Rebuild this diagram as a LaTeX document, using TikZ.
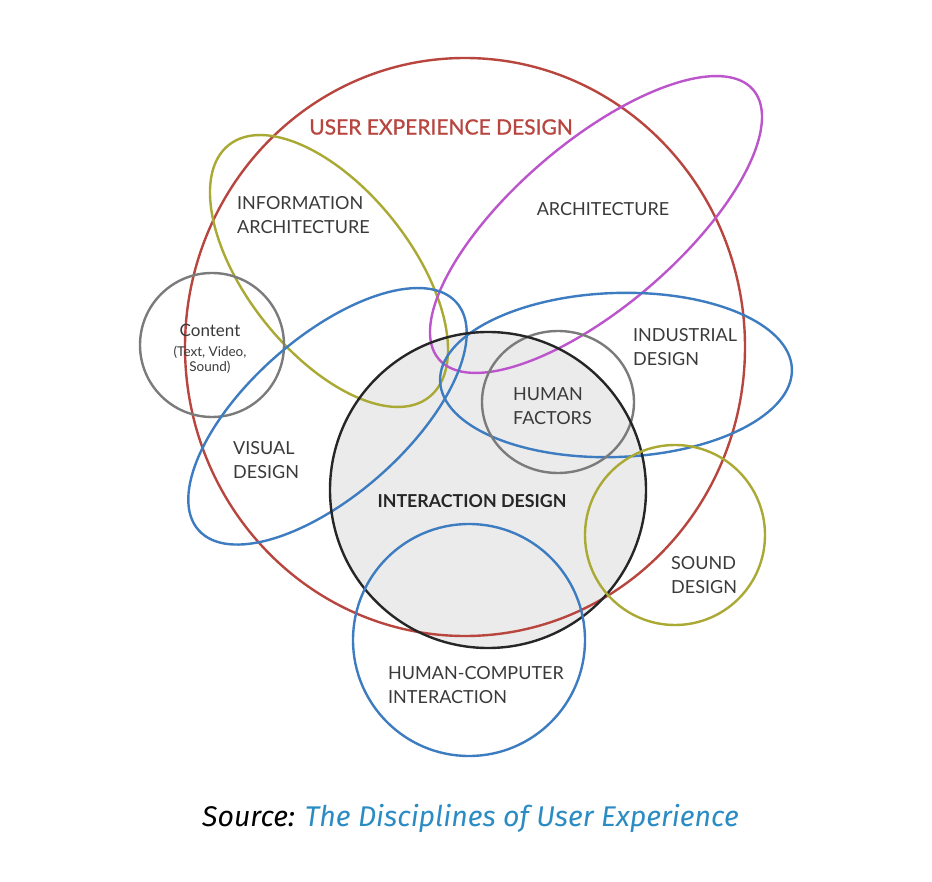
\documentclass[tikz,border=0pt]{standalone}
\usepackage{fontspec}
\setmainfont{Lato}
\newfontfamily\uxheavy[FakeBold=1]{Lato}
\newfontfamily\capfont{Fira Sans}
\usetikzlibrary{positioning}
\definecolor{uxred}{HTML}{B8463F}
\definecolor{uxolive}{HTML}{A9A934}
\definecolor{uxmagenta}{HTML}{BC55CC}
\definecolor{uxblue}{HTML}{3D7CC0}
\definecolor{uxgray}{HTML}{7B7B7B}
\definecolor{uxfill}{HTML}{EBEBEB}
\definecolor{uxtext}{HTML}{3A3A3A}
\definecolor{uxlink}{HTML}{2B8CC4}
\tikzset{
  uxring/.style={line width=2.4pt},
  uxlabel/.style={text=uxtext, align=left, inner sep=0pt, font=\fontsize{18}{23.5}\selectfont},
  uxsmall/.style={text=uxtext, align=center, inner sep=0pt, font=\fontsize{13.5}{15}\selectfont},
  uxtitle/.style={text=uxred, inner sep=0pt, font=\uxheavy\fontsize{21}{25}\selectfont},
  uxbold/.style={text=black!85, inner sep=0pt, font=\fontsize{17.8}{20}\selectfont\bfseries}
}

\begin{document}
\begin{tikzpicture}[x=1pt, y=-1pt]
  \useasboundingbox[fill=white] (0,0) rectangle (932,882);

  % interaction design disc below every ring
  \fill[uxfill] (488,490) circle [radius=158];

  \draw[uxring, uxred] (465,347) circle [x radius=280, y radius=289];
  \draw[uxring, uxolive] (329,271) circle [x radius=161, y radius=82, rotate=-51.5];
  \draw[uxring, uxmagenta] (596,224.5) circle [x radius=207, y radius=82, rotate=40.6];
  \draw[uxring, uxgray] (212,345) circle [radius=72];
  \draw[uxring, uxblue] (327.5,416.3) circle [x radius=172, y radius=79, rotate=41.4];
  \draw[uxring, uxblue] (616,375) circle [x radius=176, y radius=82, rotate=2];
  \draw[uxring, uxgray] (558,402) circle [x radius=76, y radius=71];
  \draw[uxring, black!85] (488,490) circle [radius=158];
  \draw[uxring, uxblue] (469,640) circle [radius=116];
  \draw[uxring, uxolive] (675,535) circle [radius=90];

  \node[uxtitle] (uxd) at (441,127) {USER EXPERIENCE DESIGN};
  \node[uxlabel, anchor=west] (ia) at (237,215) {INFORMATION\\ARCHITECTURE};
  \node[uxlabel] (arch) at (603,209) {ARCHITECTURE};
  \node[text=uxtext, inner sep=0pt, font=\fontsize{17}{20}\selectfont] (cont) at (210,330) {Content};
  \node[uxsmall, below=9pt of cont] (media) {(Text, Video,\\Sound)};
  \node[uxlabel, anchor=west] (ind) at (633,347) {INDUSTRIAL\\DESIGN};
  \node[uxlabel, anchor=west] (hf) at (513,406) {HUMAN\\FACTORS};
  \node[uxlabel, anchor=west] (vis) at (233,460) {VISUAL\\DESIGN};
  \node[uxbold] (ixd) at (472,501) {INTERACTION DESIGN};
  \node[uxlabel, anchor=west] (snd) at (671,575) {SOUND\\DESIGN};
  \node[uxlabel, anchor=west] (hci) at (388,685) {HUMAN-COMPUTER\\INTERACTION};

  \node[inner sep=0pt, font=\capfont\itshape\fontsize{28.5}{32}\selectfont] (src) at (470.5,818) {Source: \textcolor{uxlink}{The Disciplines of User Experience}};
\end{tikzpicture}
\end{document}
